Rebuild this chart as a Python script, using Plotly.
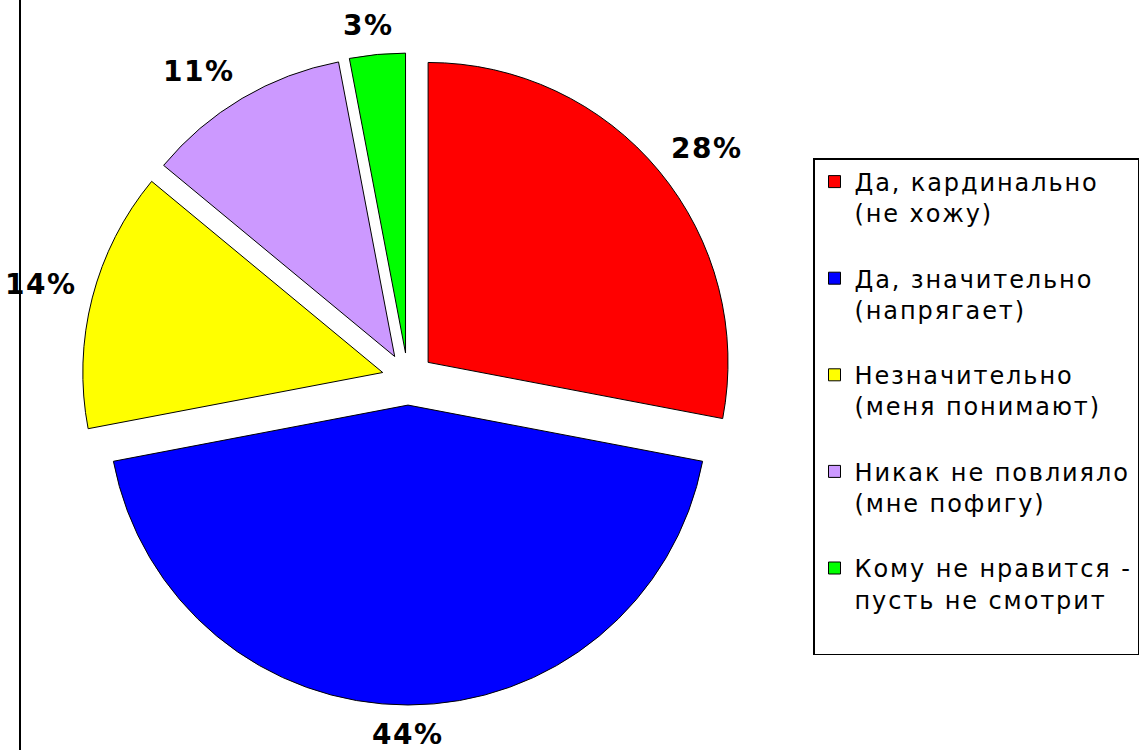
import math
import plotly.graph_objects as go

# Survey answers (two lines each) and their shares (percent)
answers = [
    ["Да, кардинально", "(не хожу)"],
    ["Да, значительно", "(напрягает)"],
    ["Незначительно", "(меня понимают)"],
    ["Никак не повлияло", "(мне пофигу)"],
    ["Кому не нравится -", "пусть не смотрит"],
]
values = [28, 44, 14, 11, 3]
colors = ["#FF0000", "#0000FF", "#FFFF00", "#CC99FF", "#00FF00"]

W, H = 1142, 750
pull = 0.087
# pie placement in pixels (centre and half of the square domain)
cx, cy, half = 408, 379, 326

dom_x = [(cx - half) / W, (cx + half) / W]
dom_y = [(H - cy - half) / H, (H - cy + half) / H]


def spaced(s, px):
    return f"<span style='letter-spacing:{px}px'>{s}</span>"


legend_labels = ["<br>".join(spaced(line, 1.9) for line in a) + "<br> "
                 for a in answers]

fig = go.Figure()
fig.add_trace(go.Pie(
    labels=legend_labels,
    values=values,
    marker=dict(colors=colors, line=dict(color="#000000", width=1)),
    sort=False,
    direction="clockwise",
    rotation=0,
    pull=[pull] * len(values),
    textinfo="none",
    hoverinfo="percent",
    domain=dict(x=dom_x, y=dom_y),
    showlegend=True,
))

# percentage labels: box corner sits just beyond each pulled slice
total = sum(values)
cum = 0
font_px = 28
dist = half + 18
for v in values:
    mid = (cum + v / 2) / total * 2 * math.pi
    cum += v
    txt = f"{v}%"
    hx = ((len(txt) - 1) * 21 + 26) / 2
    hy = 11
    sx, sy = math.sin(mid), -math.cos(mid)
    kx = max(-1.0, min(1.0, sx / 0.3))
    ky = max(-1.0, min(1.0, sy / 0.3))
    px = cx + dist * sx + hx * kx
    py = cy + dist * sy + hy * ky
    fig.add_annotation(
        x=px / W, y=1 - py / H, xref="paper", yref="paper",
        text=f"<b>{spaced(txt, 1.5)}</b>", showarrow=False,
        xanchor="center", yanchor="middle",
        font=dict(family="DejaVu Sans", size=font_px, color="#000000"),
    )

# chart-area border on the left
fig.add_shape(type="line", xref="paper", yref="paper",
              x0=20 / W, x1=20 / W, y0=0, y1=1,
              line=dict(color="#000000", width=2))

fig.update_layout(
    width=W, height=H,
    margin=dict(l=0, r=0, t=0, b=0, autoexpand=False),
    paper_bgcolor="#FFFFFF",
    plot_bgcolor="#FFFFFF",
    legend=dict(
        x=813 / W, y=1 - 158 / H, xanchor="left", yanchor="top",
        bordercolor="#000000", borderwidth=1.5,
        bgcolor="#FFFFFF",
        valign="top",
        itemwidth=30,
        font=dict(family="DejaVu Sans", size=24, color="#000000"),
        traceorder="normal",
    ),
)

fig.write_html("out.html")
